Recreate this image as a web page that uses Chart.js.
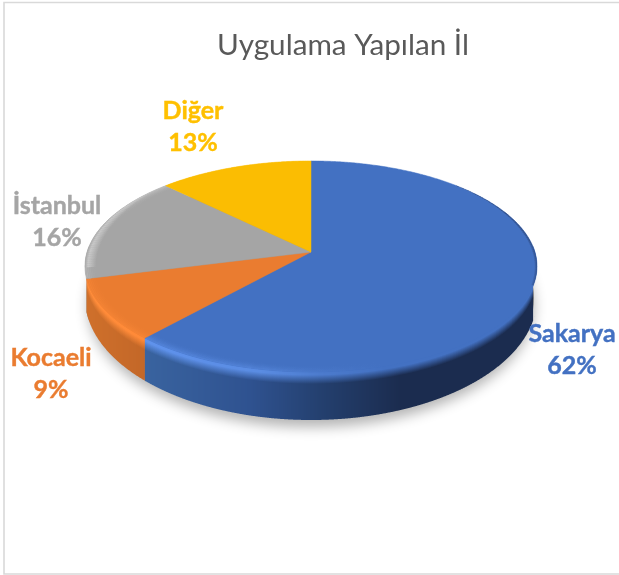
<!DOCTYPE html>
<html>
<head>
<meta charset="utf-8">
<style>html,body{margin:0;padding:0;background:#fff}canvas{display:block}</style>
<script src="https://cdn.jsdelivr.net/npm/chart.js@4"></script>
</head>
<body>
<canvas id="c" width="619" height="575"></canvas>
<script>
// Data
const categories = ['Sakarya', 'Kocaeli', 'İstanbul', 'Diğer'];
const shares = [61.6, 9.4, 16.4, 12.6];
const sliceColors = ['#4371c2', '#ea7c30', '#a5a5a5', '#fbbd02'];
const chartTitle = 'Uygulama Yapılan İl';

// Label placement (text only, independent from the data)
const labelCentres = [[572, 350], [51, 374], [57, 222], [193, 126.5]];

// Side-wall appearance, by slice
const wallStyle = [
  { base: [[146, '#39639f'], [250, '#2f5290'], [320, '#24406f'], [400, '#1b2c4f'], [540, '#1b2c4f']],
    peak: [[146, '#5f92ec'], [260, '#5a8ce2'], [320, '#4c7bcd'], [385, '#4371c2'], [540, '#4371c2']] },
  { base: [[85, '#cf702b'], [146, '#c36728']], peak: [[85, '#ff8c3a'], [146, '#ff8a38']] },
  { base: [[80, '#8c8c8c'], [100, '#8c8c8c']], peak: [[80, '#c4c4c4'], [100, '#c4c4c4']] },
  { base: [[0, '#a98100'], [619, '#a98100']], peak: [[0, '#fbbd02'], [619, '#fbbd02']] }
];

// Tilt model of the disc
const TILT = { sx: 1.4927, sy: 0.69, k: 0.137, bottomDy: 46 / 150, bottomRy: 122 / 150, bottomRx: 226 / 150 };

function project(el, phi, r) {
  const R = el.outerRadius, u = r * Math.cos(phi), v = r * Math.sin(phi), w = 1 - TILT.k * v;
  return { x: el.x + TILT.sx * R * u / w, y: el.y + TILT.sy * R * v / w, v };
}
function bottomY(el, x) {
  const R = el.outerRadius, d = Math.min(1, Math.abs(x - el.x) / (TILT.bottomRx * R));
  return el.y + TILT.bottomDy * R + TILT.bottomRy * R * Math.sqrt(1 - d * d);
}
function hex(c) { return [1, 3, 5].map(i => parseInt(c.substr(i, 2), 16)); }
function ramp(stops, x) {
  if (x <= stops[0][0]) return stops[0][1];
  for (let i = 1; i < stops.length; i++) {
    if (x <= stops[i][0]) {
      const t = (x - stops[i - 1][0]) / (stops[i][0] - stops[i - 1][0]);
      const a = hex(stops[i - 1][1]), b = hex(stops[i][1]);
      return 'rgb(' + a.map((q, j) => Math.round(q + (b[j] - q) * t)).join(',') + ')';
    }
  }
  return stops[stops.length - 1][1];
}

function wedgePath(ctx, el) {
  const step = Math.PI / 360;
  ctx.beginPath();
  ctx.moveTo(el.x, el.y);
  for (let p = el.startAngle; p < el.endAngle; p += step) {
    const q = project(el, p, 1); ctx.lineTo(q.x, q.y);
  }
  const e = project(el, el.endAngle, 1); ctx.lineTo(e.x, e.y);
  ctx.closePath();
}

function drawFace(ctx) {
  const el = this, i = el.$index, col = sliceColors[i];
  const step = Math.PI / 360;
  ctx.save();
  wedgePath(ctx, el);
  ctx.fillStyle = col; ctx.fill();
  ctx.strokeStyle = col; ctx.lineWidth = 0.5; ctx.stroke();

  wedgePath(ctx, el);
  ctx.clip();

  // lit bevel along the near rim
  const from = Math.max(el.startAngle, 0.15);
  if (from < el.endAngle) {
    const st = wallStyle[i].peak;
    const g = ctx.createLinearGradient(st[0][0], 0, st[st.length - 1][0], 0);
    const span = st[st.length - 1][0] - st[0][0];
    st.forEach(t => g.addColorStop((t[0] - st[0][0]) / span, t[1]));
    ctx.strokeStyle = g; ctx.lineWidth = 1.4;
    for (let j = 0; j < 7; j++) {
      ctx.globalAlpha = Math.pow((j + 1) / 7, 2) * 0.55;
      ctx.beginPath();
      for (let p = from; p <= el.endAngle + step; p += step) {
        const q = project(el, Math.min(p, el.endAngle), 0.955 + j * 0.0075);
        ctx.lineTo(q.x, q.y);
      }
      ctx.stroke();
    }
    ctx.globalAlpha = 1;
  }

  // rim on the far-left and far-right edges
  for (let p = el.startAngle; p < el.endAngle; p += step * 2) {
    const c = Math.cos(p), s = Math.sin(p);
    let w = 0, stops = null;
    if (c < 0 && s < 0.16) {
      w = 0.05 * Math.max(0, (-c - 0.72) / 0.28);
      stops = [[0, 'rgba(200,200,200,0)'], [0.6, 'rgba(200,200,200,1)'], [1, 'rgba(140,140,140,1)']];
    } else if (c > 0.1 && s > -0.75 && s < 0.3) {
      w = 0.012 * Math.min(1, (s + 0.75) / 0.5);
      stops = [[0, 'rgba(30,48,88,0)'], [1, 'rgba(30,48,88,0.95)']];
    }
    if (w <= 0.001) continue;
    const p2 = Math.min(p + step * 2, el.endAngle);
    const a = project(el, p, 1 - w), b = project(el, p2, 1 - w), d = project(el, p2, 1.01), f = project(el, p, 1.01);
    const g = ctx.createLinearGradient(a.x, a.y, f.x, f.y);
    stops.forEach(t => g.addColorStop(t[0], t[1]));
    ctx.fillStyle = g;
    ctx.beginPath(); ctx.moveTo(a.x, a.y); ctx.lineTo(b.x, b.y); ctx.lineTo(d.x, d.y); ctx.lineTo(f.x, f.y); ctx.closePath();
    ctx.fill();
  }
  ctx.restore();
}

const tiltPlugin = {
  id: 'tilt',
  beforeDraw(chart) {
    const ctx = chart.ctx;
    ctx.save();
    ctx.fillStyle = '#fff'; ctx.fillRect(0, 0, chart.width, chart.height);
    ctx.strokeStyle = '#d9d9d9'; ctx.lineWidth = 1.6;
    ctx.beginPath(); ctx.moveTo(chart.width + 2, 2.5); ctx.lineTo(4, 2.5); ctx.lineTo(4, 574); ctx.lineTo(chart.width + 2, 574); ctx.stroke();
    ctx.restore();
  },
  afterLayout(chart) {
    chart.titleBlock.left += 32; chart.titleBlock.right += 32;
  },
  beforeDatasetsDraw(chart) {
    const ctx = chart.ctx, meta = chart.getDatasetMeta(0), els = meta.data;
    els.forEach((el, i) => { el.$index = i; el.draw = drawFace; });
    const e0 = els[0], R = e0.outerRadius;
    ctx.save();
    // soft shadow under the disc
    ctx.shadowColor = 'rgba(0,0,0,0.30)'; ctx.shadowBlur = 13; ctx.shadowOffsetY = 8;
    ctx.fillStyle = '#888';
    ctx.beginPath();
    ctx.ellipse(e0.x, e0.y + TILT.bottomDy * R, TILT.bottomRx * R - 3, TILT.bottomRy * R - 1, 0, 0, Math.PI * 2);
    ctx.fill();
    ctx.restore();
    // side wall, one pixel column at a time inside a clip of the slice's wall outline
    const step = Math.PI / 1440;
    [3, 2, 1, 0].forEach(i => {
      const el = els[i], st = wallStyle[i];
      const tops = new Map();
      const outline = [];
      for (let p = Math.max(el.startAngle, -0.05); p <= el.endAngle + step; p += step) {
        const a = project(el, Math.min(p, el.endAngle), 1);
        if (a.v < -0.05) continue;
        outline.push(a);
        const k = Math.floor(a.x);
        tops.set(k, tops.has(k) ? Math.min(tops.get(k), a.y) : a.y);
      }
      if (!outline.length) return;
      ctx.save();
      ctx.beginPath();
      outline.forEach((a, j) => j ? ctx.lineTo(a.x, a.y - 1) : ctx.moveTo(a.x, a.y - 1));
      for (let j = outline.length - 1; j >= 0; j--) ctx.lineTo(outline[j].x, bottomY(el, outline[j].x));
      ctx.closePath();
      ctx.clip();
      tops.forEach((top, x) => {
        const mx = x + 0.5, yb = bottomY(el, mx) + 2;
        const d = Math.max(yb - top, 1);
        const base = ramp(st.base, mx), peak = ramp(st.peak, mx);
        const g = ctx.createLinearGradient(0, top, 0, top + d);
        const pos = px => Math.min(0.999, px / d);
        g.addColorStop(0, peak);
        g.addColorStop(pos(3), peak);
        g.addColorStop(pos(12), base);
        g.addColorStop(1, base);
        ctx.fillStyle = g;
        ctx.fillRect(x, top - 2, 1, d + 2);
      });
      ctx.restore();
    });
  },
  afterDraw(chart) {
    const ctx = chart.ctx, total = shares.reduce((a, b) => a + b, 0);
    ctx.save();
    ctx.font = 'bold 25px Lato';
    ctx.textAlign = 'center'; ctx.textBaseline = 'middle';
    ctx.lineWidth = 0.4;
    categories.forEach((name, i) => {
      const c = labelCentres[i];
      const col = sliceColors[i] === '#fbbd02' ? '#ffc000' : sliceColors[i];
      ctx.fillStyle = col; ctx.strokeStyle = col;
      [[name, c[1] - 16], [Math.round(shares[i] / total * 100) + '%', c[1] + 16]].forEach(t => {
        ctx.fillText(t[0], c[0], t[1]);
        ctx.strokeText(t[0], c[0], t[1]);
      });
    });
    ctx.restore();
  }
};

new Chart(document.getElementById('c'), {
  type: 'pie',
  data: { labels: categories, datasets: [{ data: shares, backgroundColor: sliceColors, borderWidth: 0 }] },
  options: {
    responsive: false,
    animation: false,
    events: [],
    layout: { padding: { left: 161, right: 158, top: 0, bottom: 173 } },
    plugins: {
      legend: { display: false },
      tooltip: { enabled: false },
      title: {
        display: true,
        text: chartTitle,
        color: '#595959',
        font: { family: 'Lato', size: 29.7, weight: 'normal', lineHeight: 1 },
        padding: { top: 31, bottom: 41.3 }
      }
    }
  },
  plugins: [tiltPlugin]
});
</script>
</body>
</html>
